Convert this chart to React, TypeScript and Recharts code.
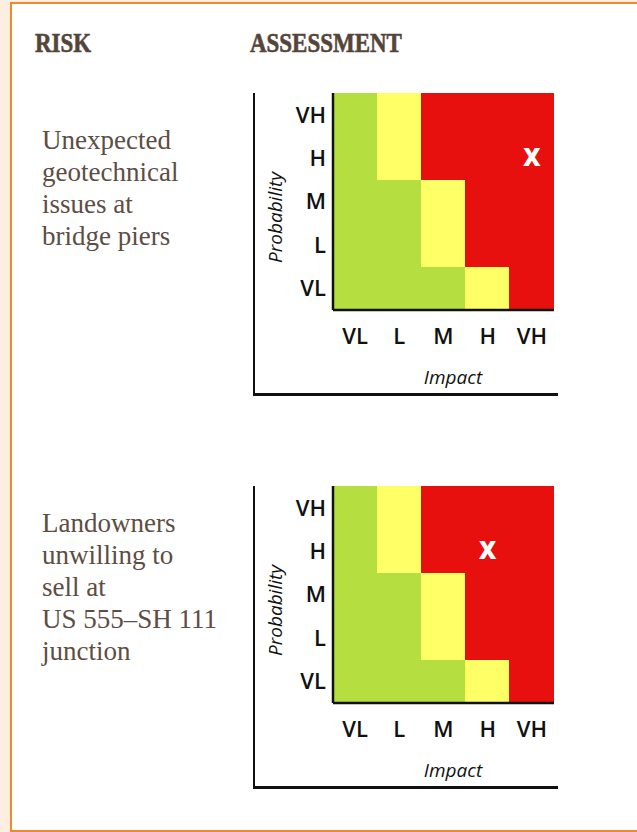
import React from 'react';
import { ComposedChart, Bar, Cell, XAxis, YAxis, ReferenceDot } from 'recharts';

// ---- data ----
const impactLevels = ['VL', 'L', 'M', 'H', 'VH'];
const probabilityLevels = ['VL', 'L', 'M', 'H', 'VH']; // bottom to top

// risk zone for each probability row (bottom to top), one entry per impact column
const zoneRowVL = ['low', 'low', 'low', 'medium', 'high'];
const zoneRowL = ['low', 'low', 'medium', 'high', 'high'];
const zoneRowM = ['low', 'low', 'medium', 'high', 'high'];
const zoneRowH = ['low', 'medium', 'high', 'high', 'high'];
const zoneRowVH = ['low', 'medium', 'high', 'high', 'high'];
const zoneRows = [zoneRowVL, zoneRowL, zoneRowM, zoneRowH, zoneRowVH];

const zoneColors: Record<string, string> = {
  low: '#B5DE41',
  medium: '#FFFF66',
  high: '#E8100F',
};

const headerLabels = ['RISK', 'ASSESSMENT'];

const risk1Lines = ['Unexpected', 'geotechnical', 'issues at', 'bridge piers'];
const risk1Assessment = { impact: 'VH', probability: 'H' };

const risk2Lines = ['Landowners', 'unwilling to', 'sell at', 'US 555–SH 111', 'junction'];
const risk2Assessment = { impact: 'H', probability: 'H' };

// each matrix cell is one unit of probability height
const chartData = impactLevels.map((imp) => {
  const row: Record<string, string | number> = { impact: imp };
  probabilityLevels.forEach((p) => {
    row[p] = 1;
  });
  return row;
});

const probabilityTicks = probabilityLevels.map((_, i) => i + 0.5);

const TEXT_BROWN = '#5D4D43';
const AXIS_BLACK = '#111111';
const TICK_FONT = "'Open Sans', 'DejaVu Sans', sans-serif";

function Matrix({ top, assessment }: { top: number; assessment: { impact: string; probability: string } }) {
  return (
    <div style={{ position: 'absolute', left: 240, top, width: 320, height: 320 }}>
      <ComposedChart
        width={320}
        height={320}
        data={chartData}
        margin={{ top: 13, right: 6, bottom: 0, left: 0 }}
        barCategoryGap={0}
        barGap={0}
      >
        {probabilityLevels.map((p, pi) => (
          <Bar key={p} dataKey={p} stackId="grid" isAnimationActive={false}>
            {impactLevels.map((imp, ii) => {
              const c = zoneColors[zoneRows[pi][ii]];
              return (
                <Cell key={imp} fill={c} stroke={c} strokeWidth={1} shapeRendering="crispEdges" />
              );
            })}
          </Bar>
        ))}
        <XAxis
          dataKey="impact"
          height={90}
          tickLine={false}
          tickSize={0}
          tickMargin={18}
          interval={0}
          axisLine={{ stroke: AXIS_BLACK, strokeWidth: 2.5 }}
          tick={{ fill: AXIS_BLACK, fontFamily: TICK_FONT, fontWeight: 600, fontSize: 22 }}
          label={{
            content: (props: any) => {
              const vb = props.viewBox || { x: 93, y: 230, width: 221, height: 90 };
              return (
                <text
                  x={vb.x + vb.width / 2 + 9.5}
                  y={vb.y + 67}
                  textAnchor="middle"
                  dominantBaseline="central"
                  fill={AXIS_BLACK}
                  fontFamily={TICK_FONT}
                  fontStyle="italic"
                  fontSize={19}
                >
                  Impact
                </text>
              );
            },
          }}
        />
        <YAxis
          type="number"
          domain={[0, probabilityLevels.length]}
          ticks={probabilityTicks}
          tickFormatter={(v: number) => probabilityLevels[Math.floor(v)]}
          width={93}
          tickLine={false}
          tickSize={0}
          tickMargin={7}
          interval={0}
          axisLine={{ stroke: AXIS_BLACK, strokeWidth: 2.5 }}
          tick={{ fill: AXIS_BLACK, fontFamily: TICK_FONT, fontWeight: 600, fontSize: 22 }}
          label={{
            content: (props: any) => {
              const vb = props.viewBox || { x: 0, y: 13, width: 93, height: 217 };
              const cx = vb.x + 35;
              const cy = vb.y + vb.height / 2 + 16;
              return (
                <text
                  x={cx}
                  y={cy}
                  transform={`rotate(-90 ${cx} ${cy})`}
                  textAnchor="middle"
                  dominantBaseline="central"
                  fill={AXIS_BLACK}
                  fontFamily={TICK_FONT}
                  fontStyle="italic"
                  fontSize={19}
                >
                  Probability
                </text>
              );
            },
          }}
        />
        <ReferenceDot
          x={assessment.impact}
          y={probabilityLevels.indexOf(assessment.probability) + 0.5}
          r={10}
          ifOverflow="visible"
          shape={(props: any) => (
            <text
              x={props.cx}
              y={props.cy}
              dy={8}
              textAnchor="middle"
              fill="#FFFFFF"
              fontFamily={TICK_FONT}
              fontWeight={800}
              fontSize={24}
            >
              X
            </text>
          )}
        />
      </ComposedChart>
      <div
        style={{
          position: 'absolute',
          left: 13,
          top: 13,
          width: 303,
          height: 300,
          borderLeft: `2.5px solid ${AXIS_BLACK}`,
          borderBottom: `3px solid ${AXIS_BLACK}`,
          pointerEvents: 'none',
        }}
      />
    </div>
  );
}

function RiskText({ top, lines }: { top: number; lines: string[] }) {
  return (
    <div
      style={{
        position: 'absolute',
        left: 42,
        top,
        fontFamily: "'Liberation Serif', 'Times New Roman', serif",
        fontSize: 27,
        lineHeight: '32px',
        color: TEXT_BROWN,
        whiteSpace: 'nowrap',
      }}
    >
      {lines.map((l) => (
        <div key={l}>{l}</div>
      ))}
    </div>
  );
}

export default function App() {
  const headerStyle: React.CSSProperties = {
    position: 'absolute',
    top: 29,
    fontFamily: "'Liberation Serif', 'Times New Roman', serif",
    fontWeight: 700,
    fontSize: 28,
    lineHeight: '28px',
    color: '#55443A',
    whiteSpace: 'nowrap',
    transform: 'scaleX(0.82)',
    transformOrigin: 'left center',
    WebkitTextStroke: '0.6px #55443A',
  };
  return (
    <div
      style={{
        position: 'fixed',
        left: 0,
        top: 0,
        width: 637,
        height: 832,
        background: '#FCEEE1',
        overflow: 'hidden',
      }}
    >
      <div
        style={{
          position: 'absolute',
          left: 10,
          top: 2,
          width: 660,
          height: 826,
          background: '#FFFFFF',
          borderLeft: '2.5px solid #F08A2E',
          borderTop: '2.5px solid #F08A2E',
          borderBottom: '2.5px solid #F08A2E',
        }}
      />
      <div style={{ ...headerStyle, left: 35 }}>{headerLabels[0]}</div>
      <div style={{ ...headerStyle, left: 250 }}>{headerLabels[1]}</div>
      <RiskText top={124} lines={risk1Lines} />
      <RiskText top={507} lines={risk2Lines} />
      <Matrix top={80} assessment={risk1Assessment} />
      <Matrix top={473} assessment={risk2Assessment} />
    </div>
  );
}
